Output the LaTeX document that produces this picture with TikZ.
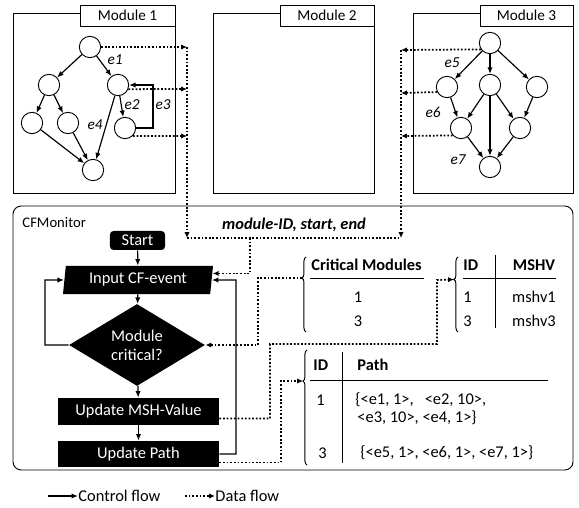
\documentclass[tikz,border=0pt]{standalone}
\usepackage{fontspec}
\setmainfont{Carlito}
\usetikzlibrary{arrows.meta, shapes.geometric, decorations.pathreplacing}

\begin{document}
\begin{tikzpicture}[x=0.03cm, y=-0.03cm, line width=0.8pt,
  every node/.style={font=\fontsize{13}{15}\selectfont},
  vtx/.style={circle, draw, minimum size=0.64cm, inner sep=0pt},
  lbl/.style={font=\fontsize{13}{15}\selectfont\itshape, inner sep=0pt},
  blk/.style={fill=black, text=white, font=\fontsize{14}{16}\selectfont, inner sep=0pt},
  txt/.style={font=\fontsize{14}{16}\selectfont, inner sep=0pt},
  hd/.style={font=\fontsize{14}{16}\selectfont\bfseries, inner sep=0pt},
  ctrl/.style={-{Latex[length=5.5pt,width=4.5pt]}, line width=1pt},
  data/.style={-{Latex[length=5pt,width=4.5pt]}, dash pattern=on 1.5pt off 1.6pt, line width=1.5pt},
  brc/.style={decorate, decoration={brace, amplitude=3.5pt, aspect=#1}}]
  \useasboundingbox (0,0) rectangle (579,508);

  \draw (13,13) rectangle (175,193);
  \draw[fill=white] (80,5) rectangle (175,26);
  \node (mod1) at (127.5,15.5) {Module 1};
  \draw (213,13) rectangle (374,193);
  \draw[fill=white] (280,5) rectangle (374,26);
  \node (mod2) at (327,15.5) {Module 2};
  \draw (413,13) rectangle (573,193);
  \draw[fill=white] (480,5) rectangle (573,26);
  \node (mod3) at (526.5,15.5) {Module 3};

  \node[vtx] (a1) at (90,47) {};
  \node[vtx] (a2) at (49,85) {};
  \node[vtx] (a3) at (118,85) {};
  \node[vtx] (a4) at (32,123) {};
  \node[vtx] (a5) at (68,123) {};
  \node[vtx] (a6) at (125,128) {};
  \node[vtx] (a7) at (93,170) {};
  \draw[ctrl] (a1) -- (a2);
  \draw[ctrl] (a1) -- (a3);
  \draw[ctrl] (a2) -- (a4);
  \draw[ctrl] (a2) -- (a5);
  \draw[ctrl] (a4) -- (a7);
  \draw[ctrl] (a5) -- (a7);
  \draw[ctrl] (a3) -- (a7);
  \draw[ctrl] (a3) -- (a6);
  \coordinate (lp) at (153,85);
  \draw[ctrl] (a6.east) -| (lp) -- (a3.east);
  \node[lbl] (e1) at (115,60) {e1};
  \node[lbl] (e2) at (132,105) {e2};
  \node[lbl] (e3) at (163,105) {e3};
  \node[lbl] (e4) at (95,125) {e4};

  \node[vtx] (b1) at (490,43) {};
  \node[vtx] (b2) at (447,87) {};
  \node[vtx] (b3) at (490,85) {};
  \node[vtx] (b4) at (537,87) {};
  \node[vtx] (b5) at (461,128) {};
  \node[vtx] (b6) at (520,128) {};
  \node[vtx] (b7) at (490,167) {};
  \draw[ctrl] (b1) -- (b2);
  \draw[ctrl] (b1) -- (b3);
  \draw[ctrl] (b1) -- (b4);
  \draw[ctrl] (b2) -- (b5);
  \draw[ctrl] (b3) -- (b5);
  \draw[ctrl] (b3) -- (b7);
  \draw[ctrl] (b3) -- (b6);
  \draw[ctrl] (b4) -- (b6);
  \draw[ctrl] (b5) -- (b7);
  \draw[ctrl] (b6) -- (b7);
  \node[lbl] (e5) at (452,63) {e5};
  \node[lbl] (e6) at (433,112) {e6};
  \node[lbl] (e7) at (458,160) {e7};

  \draw[rounded corners=7pt] (13,206) rectangle (573,470);
  \node[anchor=west, inner sep=0pt, font=\fontsize{12.5}{14}\selectfont] (cfm) at (22,223) {CFMonitor};
  \node[font=\fontsize{14}{16}\selectfont\bfseries\itshape] (evt) at (294,225) {module-ID, start, end};

  \node[blk, rounded corners=3pt, minimum width=1.65cm, minimum height=0.57cm] (start) at (137.5,240.5) {Start};
  \node[blk, trapezium, trapezium left angle=78, trapezium right angle=102, trapezium stretches body,
        minimum width=4.5cm, minimum height=0.84cm] (inp) at (138,280) {Input CF-event};
  \node[blk, diamond, minimum width=4.08cm, minimum height=2.1cm, align=center] (dia) at (137,345) {Module\\critical?};
  \node[blk, minimum width=4.83cm, minimum height=0.81cm] (msh) at (138.5,411.5) {Update MSH-Value};
  \node[blk, minimum width=4.83cm, minimum height=0.78cm] (upath) at (138.5,454) {Update Path};

  \coordinate (cl) at (45,280);
  \coordinate (cr) at (236,280);
  \draw[ctrl] (start) -- (inp);
  \draw[ctrl] (inp) -- (dia);
  \draw[ctrl] (dia) -- (msh);
  \draw[ctrl] (msh) -- (upath);
  \draw[ctrl] (dia.west) -| (cl) -- (inp.west);
  \draw[ctrl] (upath.east) -| (cr) -- (inp.east);

  \coordinate (l1) at (187,47);
  \coordinate (l2) at (187,89);
  \coordinate (l3) at (187,136);
  \coordinate (lb) at (187,238);
  \coordinate (r1) at (401,50);
  \coordinate (r2) at (401,93);
  \coordinate (r3) at (401,136);
  \coordinate (rb) at (401,238);
  \coordinate (bm) at (250,238);
  \draw[data] (a1.east) -- (l1);
  \draw[data] (a3.-22) -- (l2);
  \draw[data] (a6.-45) -- (l3);
  \draw[data] (b1.215) -- (r1);
  \draw[data] (b2.207) -- (r2);
  \draw[data] (b5.222) -- (r3);
  \draw[data] (l1) -- (lb);
  \draw[data] (r1) -- (rb);
  \draw[data, -] (lb) -- (rb);
  \draw[data] (bm) |- (inp.5);

  \draw[brc=0.72] (306,332) -- (306,257);
  \coordinate (critb) at (302,278);
  \node[hd] (crith) at (366.5,265) {Critical Modules};
  \draw (310,278) -- (424,278);
  \node[txt] (c1) at (358,297) {1};
  \node[txt] (c3) at (358,321) {3};

  \draw[brc=0.7] (458,332) -- (458,257);
  \coordinate (mshvb) at (454,279.5);
  \node[hd, anchor=west] (idh) at (463,265) {ID};
  \node[hd] (mshvh) at (534,265) {MSHV};
  \draw (463,278) -- (556,278);
  \draw (495,255) -- (495,328);
  \node[txt, anchor=west] (i1) at (463,297) {1};
  \node[txt] (v1) at (534,297) {mshv1};
  \node[txt, anchor=west] (i3) at (463,321) {3};
  \node[txt] (v3) at (534,321) {mshv3};

  \draw[brc=0.73] (307,465) -- (307,350);
  \coordinate (pathb) at (303,381);
  \node[hd, anchor=west] (pidh) at (313,365) {ID};
  \node[hd, anchor=west] (ph) at (357,365) {Path};
  \draw (310,380) -- (548,380);
  \draw (342,352) -- (342,463);
  \node[txt, anchor=west] (p1) at (316,400) {1};
  \node[txt, anchor=west] (q1) at (355,400) {\{<e1, 1>,\ \ \ <e2, 10>,};
  \node[txt, anchor=west] (q2) at (357,418) {<e3, 10>, <e4, 1>\}};
  \node[txt, anchor=west] (p3) at (318,453) {3};
  \node[txt, anchor=west] (q3) at (360,453) {\{<e5, 1>, <e6, 1>, <e7, 1>\}};

  \coordinate (k1) at (258,278);
  \coordinate (k2) at (270,344);
  \coordinate (k3) at (437,280);
  \coordinate (k4) at (281,381);
  \draw[data] (critb) -- (k1) |- (dia.east);
  \draw[data] (msh.-5) -| (k2) -| (k3) -- (mshvb);
  \draw[data] (upath.-6) -| (k4) -- (pathb);

  \coordinate (lg1) at (48,496);
  \coordinate (lg2) at (185,496);
  \node[txt, anchor=west] (lgc) at (78,496) {Control flow};
  \node[txt, anchor=west] (lgd) at (215,496) {Data flow};
  \draw[ctrl, line width=1.5pt] (lg1) -- (lgc.west);
  \draw[data] (lg2) -- (lgd.west);
\end{tikzpicture}
\end{document}
